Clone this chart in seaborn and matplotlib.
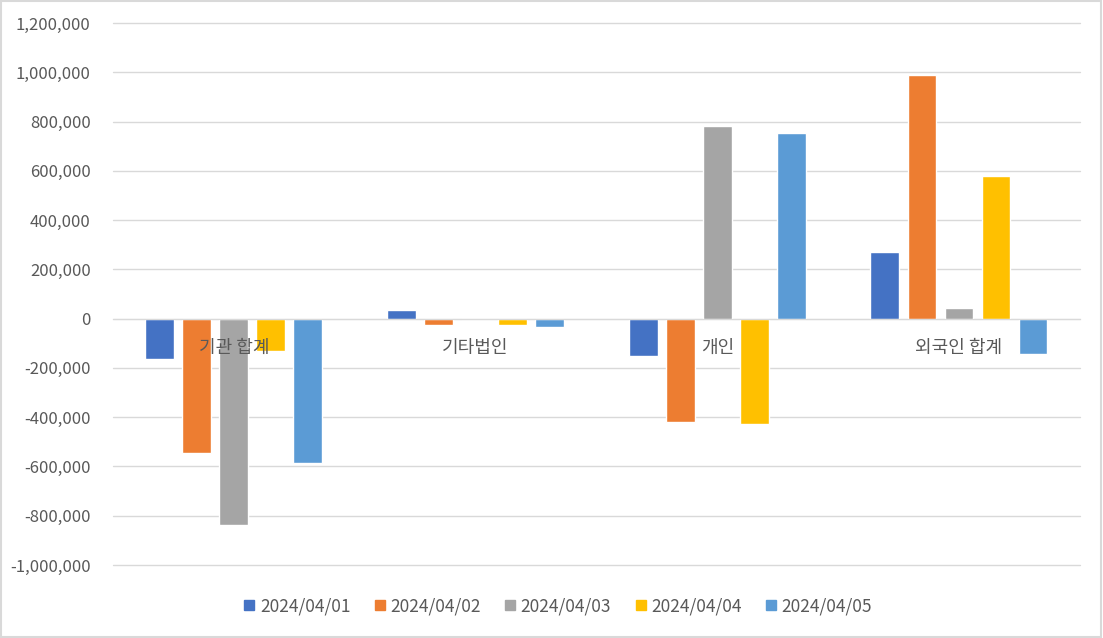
# grouped bar chart: net buying by investor type, 2024/04/01 - 04/05
import pandas as pd
import matplotlib
matplotlib.use('Agg')
import matplotlib.pyplot as plt
import seaborn as sns
from matplotlib.ticker import FuncFormatter, MultipleLocator
from matplotlib.lines import Line2D
from matplotlib.patches import Rectangle

# data
categories = ['기관 합계', '기타법인', '개인', '외국인 합계']
dates = ['2024/04/01', '2024/04/02', '2024/04/03', '2024/04/04', '2024/04/05']
v0401 = [-162000, 37000, -153000, 272000]
v0402 = [-544000, -27000, -421000, 987000]
v0403 = [-836000, 0, 780000, 45000]
v0404 = [-130000, -27000, -429000, 580000]
v0405 = [-584000, -35000, 755000, -142000]
colors = ['#4472C4', '#ED7D31', '#A5A5A5', '#FFC000', '#5B9BD5']

rows = []
for d, vals in zip(dates, [v0401, v0402, v0403, v0404, v0405]):
    for c, v in zip(categories, vals):
        rows.append({'category': c, 'date': d, 'value': v})
df = pd.DataFrame(rows)

sns.set_style('white')
plt.rcParams['font.family'] = ['Noto Sans CJK KR', 'DejaVu Sans']

fig = plt.figure(figsize=(11.03, 6.38), dpi=100)
ax = fig.add_axes([0.1024, 0.1144, 0.8766, 0.8496])

sns.barplot(data=df, x='category', y='value', hue='date', order=categories,
            hue_order=dates, palette=colors, saturation=1, width=0.766,
            gap=0.22, ax=ax, legend=False)

ax.set_ylim(-1000000, 1200000)
ax.yaxis.set_major_locator(MultipleLocator(200000))
ax.yaxis.set_major_formatter(FuncFormatter(lambda v, p: f'{int(v):,}'))
ax.yaxis.grid(True, color='#D9D9D9', linewidth=1)
ax.set_axisbelow(True)
ax.set_xlabel('')
ax.set_ylabel('')
for gl in ax.get_ygridlines():
    gl.set_clip_on(False)

for s in ['left', 'right', 'top']:
    ax.spines[s].set_visible(False)
ax.spines['bottom'].set_position(('data', 0))
ax.spines['bottom'].set_color('#D9D9D9')

ax.tick_params(axis='y', length=0, pad=16, labelsize=12, labelcolor='#595959')
ax.tick_params(axis='x', length=0, labelbottom=False)

# category labels sit just under the zero line, drawn over the bars
for i, c in enumerate(categories):
    ax.annotate(c, xy=(i, 0), xytext=(0, -21), textcoords='offset points',
                ha='center', va='center', fontsize=13, color='#595959', zorder=5)

handles = [Line2D([], [], marker='s', linestyle='', markersize=7,
                  markerfacecolor=c, markeredgecolor=c) for c in colors]
fig.legend(handles, dates, loc='center', bbox_to_anchor=(0.506, 0.05), ncol=5,
           frameon=False, fontsize=12.5, labelcolor='#595959',
           handlelength=0.6, handletextpad=0.3, columnspacing=1.4)

fig.patches.append(Rectangle((0.001, 0.002), 0.997, 0.996, transform=fig.transFigure,
                             fill=False, edgecolor='#D9D9D9', linewidth=1.5))

plt.savefig('out.png', dpi=100)
